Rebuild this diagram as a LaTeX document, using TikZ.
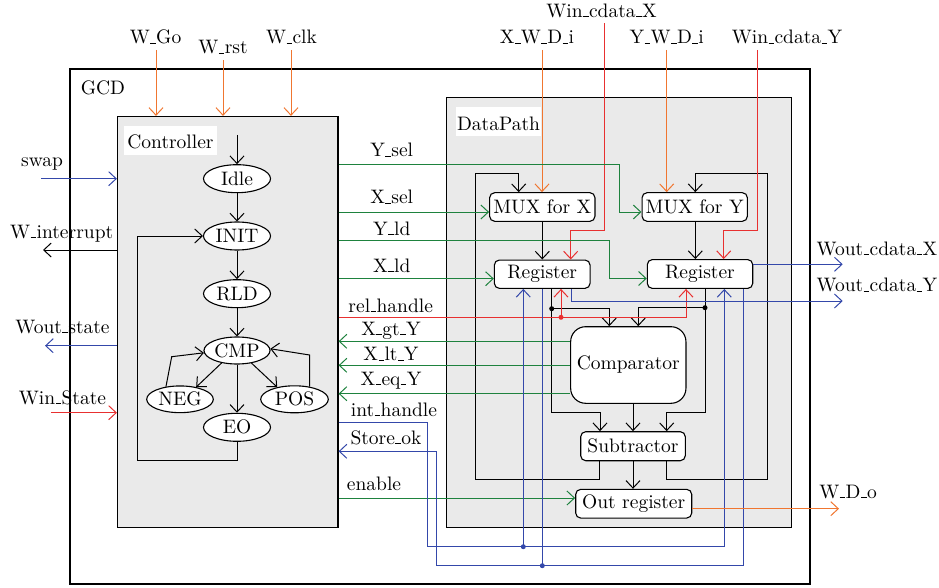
\documentclass[tikz,border=0pt]{standalone}
\usepackage{fontspec}
\setmainfont{lmroman10-regular.otf}
\usetikzlibrary{arrows.meta,shapes.geometric}
\definecolor{org}{RGB}{240,118,48}
\definecolor{rd}{RGB}{232,48,48}
\definecolor{bl}{RGB}{52,72,170}
\definecolor{grn}{RGB}{30,130,62}
\definecolor{bgg}{RGB}{234,234,234}
\newcommand\dgfont{\fontsize{19.5}{23}\selectfont}
\newcommand\us{\kern0.4pt\rule{5.6pt}{0.9pt}\kern0.4pt}
\tikzset{
  every node/.style={font=\dgfont},
  ln/.style={line width=1pt},
  arr/.style={line width=1pt,-{Straight Barb[length=7.5pt,width=14pt,line width=1pt]}},
  box/.style={draw, rounded corners=5pt, fill=white, line width=1.1pt, inner sep=0pt},
  st/.style={draw, ellipse, fill=white, inner sep=0pt, line width=1.1pt, minimum width=67pt, minimum height=28pt},
  lab/.style={anchor=base, inner sep=0pt},
  cont/.style={draw, line width=1.2pt, inner sep=0pt},
  dot/.style={circle, fill, inner sep=0pt, minimum size=5pt},
}
\begin{document}
\begin{tikzpicture}[x=1pt,y=-1pt]
\useasboundingbox (0,0) rectangle (939,588);
% containers
\node[cont, minimum width=740pt, minimum height=515pt] (gcd) at (440,326.5) {};
\node[cont, fill=bgg, minimum width=220.5pt, minimum height=411.2pt] (ctrl) at (227.75,322.1) {};
\node[cont, fill=bgg, minimum width=345.4pt, minimum height=430.2pt] (dp) at (619,312.6) {};
\node[lab] (lgcd) at (103,95) {GCD};
\node[fill=white, minimum width=93pt, minimum height=29pt, inner sep=0pt] (lctrl) at (170.5,140.5) {};
\node[lab] (lctrlt) at (170.5,148.5) {Controller};
\node[fill=white, minimum width=85pt, minimum height=29pt, inner sep=0pt] (ldp) at (498.5,121.5) {};
\node[lab] (ldpt) at (498.5,130.5) {DataPath};

% controller states
\node[st] (idle) at (237,178.7) {Idle};
\node[st] (init) at (237,236) {INIT};
\node[st] (rld) at (237,293.7) {RLD};
\node[st, minimum width=66pt, minimum height=27pt] (cmp) at (237,350.5) {CMP};
\node[st, minimum width=66.6pt, minimum height=26.7pt] (neg) at (180,399.3) {NEG};
\node[st, minimum width=67.6pt, minimum height=27pt] (pos) at (294.5,399.3) {POS};
\node[st] (eo) at (237,427.3) {EO};

% datapath blocks
\node[box, minimum width=105.3pt, minimum height=28.6pt] (muxx) at (542.3,207) {MUX for X};
\node[box, minimum width=105.3pt, minimum height=28.6pt] (muxy) at (694.7,207) {MUX for Y};
\node[box, minimum width=95.7pt, minimum height=28.3pt] (regx) at (542.2,274.2) {Register};
\node[box, minimum width=105.4pt, minimum height=28.8pt] (regy) at (700,274) {Register};
\node[box, rounded corners=15pt, minimum width=115.3pt, minimum height=76.6pt] (comp) at (628.3,365) {Comparator};
\node[box, minimum width=104.6pt, minimum height=29pt] (sub) at (633,446.2) {Subtractor};
\node[box, minimum width=116pt, minimum height=28.7pt] (out) at (633.7,503.7) {Out register};

% coordinates
\coordinate (go) at (156,50);
\coordinate (rst) at (223,60);
\coordinate (clk) at (291,50);
\coordinate (swapin) at (41,178.7);
\coordinate (wint) at (43,250);
\coordinate (wos) at (45,345.7);
\coordinate (wis) at (51,412.7);
\coordinate (start) at (237,135);
\coordinate (nb) at (171.7,356.7);
\coordinate (pb) at (310,355);
\coordinate (loopb) at (137,460.7);

% top inputs to controller
\draw[arr,org] (go) -- (go |- ctrl.north);
\draw[arr,org] (rst) -- (rst |- ctrl.north);
\draw[arr,org] (clk) -- (clk |- ctrl.north);
\node[lab] (lgo) at (155.5,44) {W\us Go};
\node[lab] (lrst) at (223,54) {W\us rst};
\node[lab] (lclk) at (291.5,44) {W\us clk};

% left side
\draw[arr,bl] (swapin) -- (swapin -| ctrl.west);
\draw[arr] (wint -| ctrl.west) -- (wint);
\draw[arr,bl] (wos -| ctrl.west) -- (wos);
\draw[arr,rd] (wis) -- (wis -| ctrl.west);
\node[lab] (lswap) at (42,166.7) {swap};
\node[lab] (lwint) at (61.7,238.3) {W\us interrupt};
\node[lab] (lwos) at (62.5,333.3) {Wout\us state};
\node[lab] (lwis) at (62.5,404) {Win\us State};

% state machine
\draw[arr] (start) -- (idle);
\draw[arr] (idle) -- (init);
\draw[arr] (init) -- (rld);
\draw[arr] (rld) -- (cmp);
\draw[arr] (cmp) -- (eo);
\draw[arr] (cmp.219) -- (neg.37);
\draw[arr] (cmp.319) -- (pos.145);
\draw[arr] (neg.138) -- (nb) -- (cmp.184);
\draw[arr] (pos.40) -- (pos.40 |- pb) -- (cmp.3);
\draw[arr] (eo.south) -- (eo.south |- loopb) -- (loopb) -- (loopb |- init) -- (init.west);

% datapath coordinates
\coordinate (mxin) at ([yshift=-5pt]muxx.west);
\coordinate (myin) at ([yshift=-5pt]muxy.west);
\coordinate (rxin) at ([yshift=-4.5pt]regx.west);
\coordinate (ryin) at ([yshift=-4.5pt]regy.west);
\coordinate (ysel) at (619,164.3);
\coordinate (yld) at (609,240.3);
\coordinate (reldot) at (561,317.3);
\coordinate (relr) at (686,317.3);
\coordinate (gty) at (0,341.3);
\coordinate (lty) at (0,365.3);
\coordinate (eqy) at (0,393.7);
\coordinate (ih1) at (427.3,422.7);
\coordinate (ih2) at (427.3,546.7);
\coordinate (ihdot) at (523.3,546.7);
\coordinate (ih3) at (724.3,546.7);
\coordinate (so1) at (436.7,451.3);
\coordinate (so2) at (436.7,565.7);
\coordinate (sodot) at (542.3,565.7);
\coordinate (so3) at (743.3,565.7);
\coordinate (en) at ([yshift=5.7pt]out.west);
\coordinate (wcx) at (842.7,264.3);
\coordinate (wcy1) at (571,301);
\coordinate (wcy) at (842.7,301);
\coordinate (xwd) at (542,50);
\coordinate (ywd) at (666.7,50);
\coordinate (wcdx) at (604.3,23.3);
\coordinate (wcdx2) at (604.3,230.7);
\coordinate (wcdx3) at (570.7,230.7);
\coordinate (wcdy) at (757,50);
\coordinate (wcdy2) at (757,230.7);
\coordinate (wcdy3) at (723.7,230.7);
\coordinate (fbx1) at (475,173.7);
\coordinate (fbx2) at (518.7,173.7);
\coordinate (fbx3) at (475,479.3);
\coordinate (fbx4) at (599.3,479.3);
\coordinate (fby1) at (767,173.7);
\coordinate (fby2) at (695.3,173.7);
\coordinate (fby3) at (767,479.3);
\coordinate (fby4) at (666.7,479.3);
\coordinate (dx) at (551.7,308.7);
\coordinate (cx1) at (609.3,308.7);
\coordinate (sx1) at (551.7,412.7);
\coordinate (sx2) at (600,412.7);
\coordinate (dy) at (705,307.7);
\coordinate (cy1) at (638.3,307.7);
\coordinate (sy1) at (705,412.7);
\coordinate (sy2) at (666.7,412.7);
\coordinate (wdo) at (839,508.7);

% black datapath wiring
\draw[arr] (sub.south -| fbx4) -- (fbx4) -- (fbx3) -- (fbx1) -- (fbx2) -- (fbx2 |- muxx.north);
\draw[arr] (sub.south -| fby4) -- (fby4) -- (fby3) -- (fby1) -- (fby2) -- (fby2 |- muxy.north);
\draw[arr] (muxx.south) -- (muxx.south |- regx.north);
\draw[arr] (muxy.south -| fby2) -- (fby2 |- regy.north);
\draw[arr] (regx.south -| dx) -- (sx1) -- (sx2) -- (sx2 |- sub.north);
\draw[arr] (dx) -- (cx1) -- (cx1 |- comp.north);
\draw[arr] (regy.south -| dy) -- (sy1) -- (sy2) -- (sy2 |- sub.north);
\draw[arr] (dy) -- (cy1) -- (cy1 |- comp.north);
\draw[arr] (sub.north |- comp.south) -- (sub.north);
\draw[arr] (sub.south) -- (sub.south |- out.north);
\node[dot] (dxd) at (dx) {};
\node[dot] (dyd) at (dy) {};

% top datapath inputs
\draw[arr,org] (xwd) -- (xwd |- muxx.north);
\draw[arr,org] (ywd) -- (ywd |- muxy.north);
\draw[arr,rd] (wcdx) -- (wcdx2) -- (wcdx3) -- (wcdx3 |- regx.north);
\draw[arr,rd] (wcdy) -- (wcdy2) -- (wcdy3) -- (wcdy3 |- regy.north);
\node[lab] (lxwd) at (537,44) {X\us W\us D\us i};
\node[lab] (lywd) at (666.7,44) {Y\us W\us D\us i};
\node[lab] (lwcdx) at (601.5,17.3) {Win\us cdata\us X};
\node[lab] (lwcdy) at (787,44) {Win\us cdata\us Y};

% controller -> datapath (green)
\draw[arr,grn] (ctrl.east |- ysel) -- (ysel) -- (ysel |- myin) -- (myin);
\draw[arr,grn] (ctrl.east |- mxin) -- (mxin);
\draw[arr,grn] (ctrl.east |- yld) -- (yld) -- (yld |- ryin) -- (ryin);
\draw[arr,grn] (ctrl.east |- rxin) -- (rxin);
\draw[arr,grn] (comp.west |- gty) -- (ctrl.east |- gty);
\draw[arr,grn] (comp.west |- lty) -- (ctrl.east |- lty);
\draw[arr,grn] (comp.west |- eqy) -- (ctrl.east |- eqy);
\draw[arr,grn] (ctrl.east |- en) -- (en);

% rel_handle (red)
\draw[arr,rd] (ctrl.east |- reldot) -- (relr) -- (relr |- regy.south);
\draw[arr,rd] (reldot) -- (reldot |- regx.south);
\node[dot, rd] (reld) at (reldot) {};

% blue handshake lines
\draw[arr,bl] (wcy1 |- regx.south) -- (wcy1) -- (wcy);
\draw[arr,bl] (regy.east |- wcx) -- (wcx);
\draw[arr,bl] (ctrl.east |- ih1) -- (ih1) -- (ih2) -- (ih3) -- (ih3 |- regy.south);
\draw[arr,bl] (ihdot) -- (ihdot |- regx.south);
\draw[arr,bl] (so3 |- regy.south) -- (so3) -- (so2) -- (so1) -- (ctrl.east |- so1);
\draw[ln,bl] (sodot |- regx.south) -- (sodot);
\node[dot, bl] (ihd) at (ihdot) {};
\node[dot, bl] (sod) at (sodot) {};

% output
\draw[arr,org] (out.east |- wdo) -- (wdo);

% signal labels
\node[lab] (lysel) at (391.7,156.7) {Y\us sel};
\node[lab] (lxsel) at (391.7,204) {X\us sel};
\node[lab] (lyld) at (391.7,235) {Y\us ld};
\node[lab] (lxld) at (391.7,272.3) {X\us ld};
\node[lab] (lrel) at (390.7,312) {rel\us handle};
\node[lab] (lgt) at (391,335.3) {X\us gt\us Y};
\node[lab] (llt) at (391,360.7) {X\us lt\us Y};
\node[lab] (leq) at (391,385.3) {X\us eq\us Y};
\node[lab] (lih) at (394,416) {int\us handle};
\node[lab] (lso) at (386,444) {Store\us ok};
\node[lab] (len) at (374,490.7) {enable};
\node[lab] (lwcx) at (877,255) {Wout\us cdata\us X};
\node[lab] (lwcy) at (877,291.7) {Wout\us cdata\us Y};
\node[lab] (lwdo) at (848,498.3) {W\us D\us o};
\end{tikzpicture}
\end{document}
